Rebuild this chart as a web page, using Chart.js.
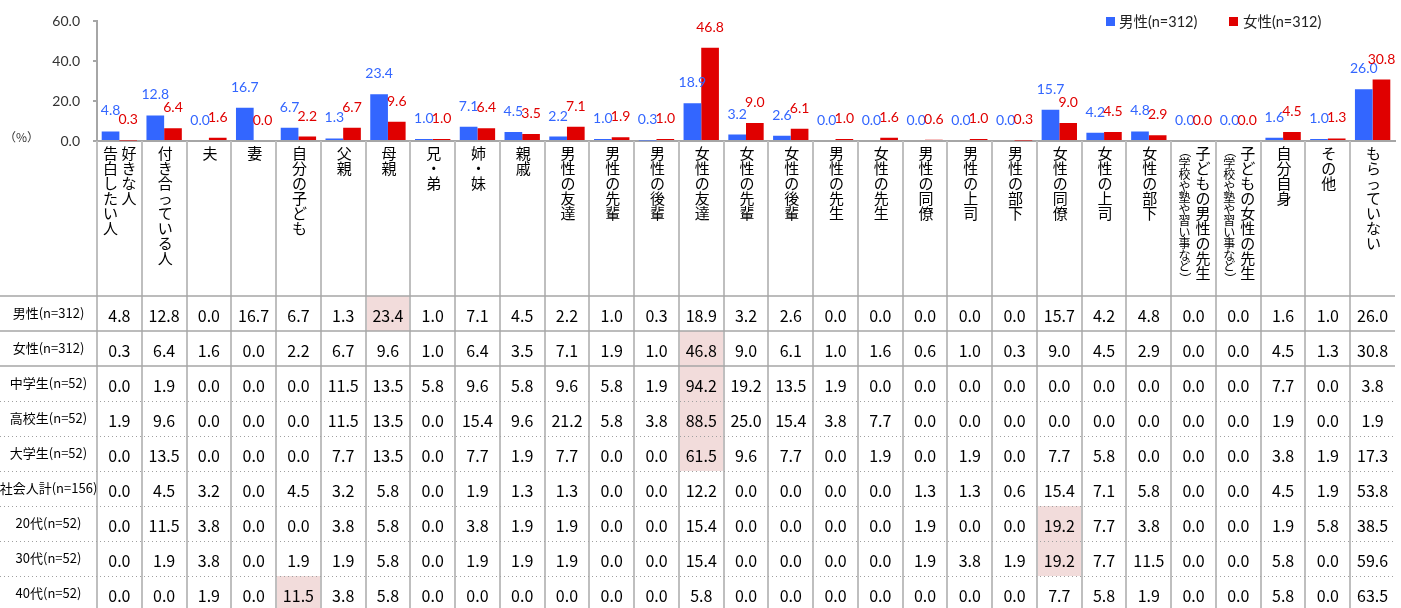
<!DOCTYPE html>
<html><head><meta charset="utf-8">
<script src="https://cdn.jsdelivr.net/npm/chart.js@4.4.0/dist/chart.umd.min.js"></script>
<style>html,body{margin:0;padding:0;background:#fff;overflow:hidden}canvas{display:block}</style>
</head><body>
<canvas id="c" width="1401" height="608"></canvas>
<script>
// ---------- DATA ----------
const categories = [
  '好きな人\n告白したい人','付き合っている人','夫','妻','自分の子ども','父親','母親','兄・弟','姉・妹','親戚',
  '男性の友達','男性の先輩','男性の後輩','女性の友達','女性の先輩','女性の後輩','男性の先生','女性の先生',
  '男性の同僚','男性の上司','男性の部下','女性の同僚','女性の上司','女性の部下',
  '子どもの男性の先生\n（学校や塾や習い事など）','子どもの女性の先生\n（学校や塾や習い事など）',
  '自分自身','その他','もらっていない'
];
const seriesNames = ['男性(n=312)', '女性(n=312)'];
const maleValues   = [4.8,12.8,0.0,16.7,6.7,1.3,23.4,1.0,7.1,4.5,2.2,1.0,0.3,18.9,3.2,2.6,0.0,0.0,0.0,0.0,0.0,15.7,4.2,4.8,0.0,0.0,1.6,1.0,26.0];
const femaleValues = [0.3,6.4,1.6,0.0,2.2,6.7,9.6,1.0,6.4,3.5,7.1,1.9,1.0,46.8,9.0,6.1,1.0,1.6,0.6,1.0,0.3,9.0,4.5,2.9,0.0,0.0,4.5,1.3,30.8];
const jhsValues    = [0.0,1.9,0.0,0.0,0.0,11.5,13.5,5.8,9.6,5.8,9.6,5.8,1.9,94.2,19.2,13.5,1.9,0.0,0.0,0.0,0.0,0.0,0.0,0.0,0.0,0.0,7.7,0.0,3.8];
const hsValues     = [1.9,9.6,0.0,0.0,0.0,11.5,13.5,0.0,15.4,9.6,21.2,5.8,3.8,88.5,25.0,15.4,3.8,7.7,0.0,0.0,0.0,0.0,0.0,0.0,0.0,0.0,1.9,0.0,1.9];
const univValues   = [0.0,13.5,0.0,0.0,0.0,7.7,13.5,0.0,7.7,1.9,7.7,0.0,0.0,61.5,9.6,7.7,0.0,1.9,0.0,1.9,0.0,7.7,5.8,0.0,0.0,0.0,3.8,1.9,17.3];
const workerValues = [0.0,4.5,3.2,0.0,4.5,3.2,5.8,0.0,1.9,1.3,1.3,0.0,0.0,12.2,0.0,0.0,0.0,0.0,1.3,1.3,0.6,15.4,7.1,5.8,0.0,0.0,4.5,1.9,53.8];
const age20Values  = [0.0,11.5,3.8,0.0,0.0,3.8,5.8,0.0,3.8,1.9,1.9,0.0,0.0,15.4,0.0,0.0,0.0,0.0,1.9,0.0,0.0,19.2,7.7,3.8,0.0,0.0,1.9,5.8,38.5];
const age30Values  = [0.0,1.9,3.8,0.0,1.9,1.9,5.8,0.0,1.9,1.9,1.9,0.0,0.0,15.4,0.0,0.0,0.0,0.0,1.9,3.8,1.9,19.2,7.7,11.5,0.0,0.0,5.8,0.0,59.6];
const age40Values  = [0.0,0.0,1.9,0.0,11.5,3.8,5.8,0.0,0.0,0.0,0.0,0.0,0.0,5.8,0.0,0.0,0.0,0.0,0.0,0.0,0.0,7.7,5.8,1.9,0.0,0.0,5.8,0.0,63.5];
const rowLabels = ['男性(n=312)','女性(n=312)','中学生(n=52)','高校生(n=52)','大学生(n=52)','社会人計(n=156)','20代(n=52)','30代(n=52)','40代(n=52)'];
const tableRows = [maleValues, femaleValues, jhsValues, hsValues, univValues, workerValues, age20Values, age30Values, age40Values];
// highlighted cells: [row, column]
const highlights = [[0,6],[1,13],[2,13],[3,13],[4,13],[6,21],[7,21],[8,4]];
const yMax = 60, yStep = 20;
const unitLabel = '（%）';

// ---------- STYLE ----------
const BLUE = '#3366FF', RED = '#E00000';
const JP = "'Noto Sans CJK JP'";
const TABLE_TOP = 296, ROW_H = 35;

function drawVertical(ctx, text, x, y0, step, px) {
  ctx.font = px + 'px ' + JP;
  ctx.textAlign = 'center'; ctx.textBaseline = 'middle';
  let y = y0 + step / 2;
  for (const ch of text) {
    if (ch === '（' || ch === '）') {
      ctx.save(); ctx.translate(x, y); ctx.rotate(Math.PI / 2); ctx.fillText(ch, 0, 0); ctx.restore();
    } else ctx.fillText(ch, x, y);
    y += step;
  }
}

const valueLabels = {
  id: 'valueLabels',
  afterDatasetsDraw(chart) {
    const ctx = chart.ctx;
    const cols = [BLUE, RED];
    chart.data.datasets.forEach((ds, di) => {
      const meta = chart.getDatasetMeta(di);
      ctx.save();
      ctx.font = '14px Lato';
      ctx.fillStyle = cols[di];
      ctx.textAlign = 'center'; ctx.textBaseline = 'alphabetic';
      meta.data.forEach((el, i) => ctx.fillText(ds.data[i].toFixed(1), el.x, el.y - 16));
      ctx.restore();
    });
  }
};

const tableAndLabels = {
  id: 'tableAndLabels',
  afterDraw(chart) {
    const ctx = chart.ctx, xs = chart.scales.x, area = chart.chartArea;
    const n = categories.length;
    const w = (area.right - area.left) / n;
    const L = area.left, R = area.right;
    const H = chart.height;
    ctx.save();
    // highlighted cells
    ctx.fillStyle = '#F2DCDB';
    highlights.forEach(([r, c]) => ctx.fillRect(L + c * w, TABLE_TOP + r * ROW_H, w, ROW_H));
    // vertical separators
    ctx.strokeStyle = '#BFBFBF'; ctx.lineWidth = 2;
    for (let i = 0; i < n; i++) {
      const x = Math.round(L + i * w);
      ctx.beginPath(); ctx.moveTo(x, area.bottom); ctx.lineTo(x, H); ctx.stroke();
    }
    // horizontal lines
    ctx.strokeStyle = '#A6A6A6'; ctx.lineWidth = 1.5;
    [0, 1, 2].forEach(k => {
      const y = TABLE_TOP + k * ROW_H;
      ctx.beginPath(); ctx.moveTo(0, y); ctx.lineTo(R, y); ctx.stroke();
    });
    ctx.strokeStyle = '#A0A0A0'; ctx.lineWidth = 1; ctx.setLineDash([1, 3]);
    for (let k = 3; k < tableRows.length; k++) {
      const y = TABLE_TOP + k * ROW_H + 0.5;
      ctx.beginPath(); ctx.moveTo(0, y); ctx.lineTo(R, y); ctx.stroke();
    }
    ctx.setLineDash([]);
    // row labels
    ctx.fillStyle = '#000';
    ctx.textAlign = 'center'; ctx.textBaseline = 'middle';
    ctx.font = '13px ' + JP;
    rowLabels.forEach((lab, r) => ctx.fillText(lab, L / 2, TABLE_TOP + r * ROW_H + ROW_H / 2));
    // values
    ctx.font = '16px ' + JP;
    tableRows.forEach((row, r) => {
      row.forEach((v, c) => ctx.fillText(v.toFixed(1), xs.getPixelForValue(c), TABLE_TOP + r * ROW_H + ROW_H / 2 + 2));
    });
    // vertical category labels
    ctx.fillStyle = '#000';
    categories.forEach((lab, i) => {
      const cx = xs.getPixelForValue(i);
      const parts = lab.split('\n');
      if (parts.length === 1) {
        drawVertical(ctx, parts[0], cx + 1, 146, 15, 15);
      } else {
        parts.forEach((p, k) => {
          const small = p.startsWith('（');
          const x = k === 0 ? cx + 9.5 : cx - 9;
          if (small) drawVertical(ctx, p, x, 146, 11.5, 12);
          else drawVertical(ctx, p, x, 146, 15, 15);
        });
      }
    });
    // unit label
    ctx.font = '12px ' + JP; ctx.textAlign = 'left'; ctx.textBaseline = 'middle';
    ctx.fillStyle = '#333';
    ctx.fillText(unitLabel, 4, 137);
    // legend
    const legend = [[BLUE, 1106, 1119], [RED, 1229, 1243]];
    ctx.font = "14.5px Lato, " + JP;
    legend.forEach(([col, sx, tx], k) => {
      ctx.fillStyle = col; ctx.fillRect(sx, 17, 9, 9);
      ctx.fillStyle = '#222'; ctx.textAlign = 'left'; ctx.textBaseline = 'middle';
      ctx.fillText(seriesNames[k], tx, 22);
    });
    ctx.restore();
  }
};

new Chart(document.getElementById('c'), {
  type: 'bar',
  data: {
    labels: categories,
    datasets: [
      { label: seriesNames[0], data: maleValues, backgroundColor: BLUE },
      { label: seriesNames[1], data: femaleValues, backgroundColor: RED }
    ]
  },
  options: {
    responsive: false, animation: false, devicePixelRatio: 1,
    layout: { padding: { left: 0, right: 6, top: 19, bottom: 0 } },
    datasets: { bar: { categoryPercentage: 0.79, barPercentage: 1.0 } },
    plugins: { legend: { display: false }, tooltip: { enabled: false } },
    scales: {
      x: {
        ticks: { display: false },
        grid: { display: false },
        border: { color: '#A6A6A6', width: 2 },
        afterFit(s) { s.height = 467; }
      },
      y: {
        min: 0, max: yMax,
        ticks: { stepSize: yStep, padding: 13, color: '#333', font: { family: 'Lato', size: 14 },
                 callback: v => Number(v).toFixed(1) },
        grid: { drawOnChartArea: false, drawTicks: true, tickLength: 4, color: '#A6A6A6', lineWidth: 2 },
        border: { color: '#A6A6A6', width: 2 },
        afterFit(s) { s.width = 97; }
      }
    }
  },
  plugins: [valueLabels, tableAndLabels]
});
</script>
</body></html>
